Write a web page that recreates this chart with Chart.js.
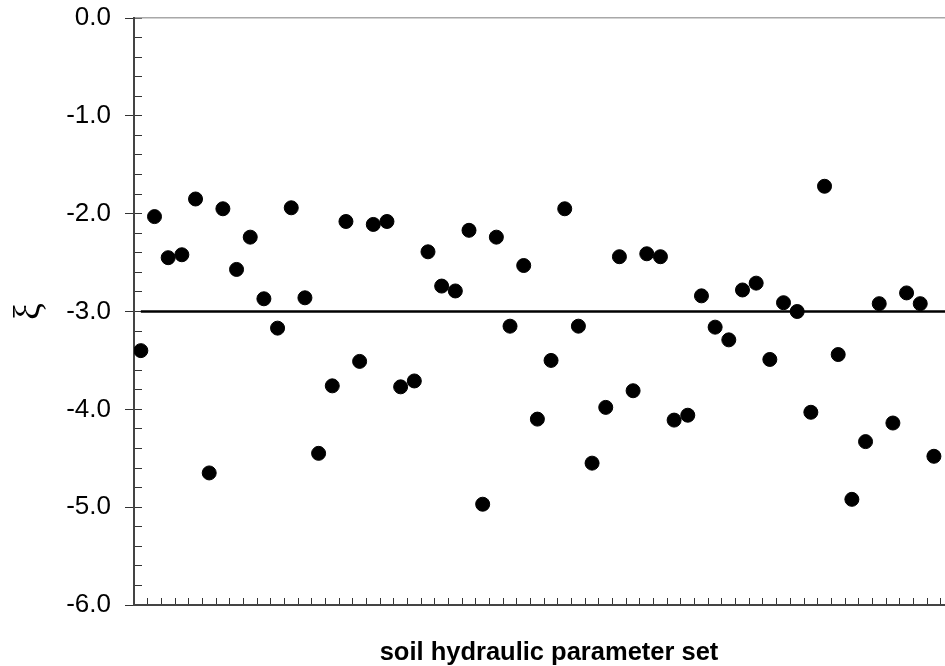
<!DOCTYPE html>
<html>
<head>
<meta charset="utf-8">
<title>soil hydraulic parameter set</title>
<script src="https://cdn.jsdelivr.net/npm/chart.js@4.4.1/dist/chart.umd.min.js"></script>
<style>
  html, body { margin: 0; padding: 0; background: #fff; overflow: hidden; }
  #wrap { width: 975px; height: 666px; }
</style>
</head>
<body>
<div id="wrap"><canvas id="chart" width="975" height="666"></canvas></div>
<script>
// one value per soil hydraulic parameter set (sets 1..59, left to right)
const xiValues = [
  -3.40, -2.03, -2.45, -2.42, -1.85, -4.65, -1.95, -2.57, -2.24, -2.87,
  -3.17, -1.94, -2.86, -4.45, -3.76, -2.08, -3.51, -2.11, -2.08, -3.77,
  -3.71, -2.39, -2.74, -2.79, -2.17, -4.97, -2.24, -3.15, -2.53, -4.10,
  -3.50, -1.95, -3.15, -4.55, -3.98, -2.44, -3.81, -2.41, -2.44, -4.11,
  -4.06, -2.84, -3.16, -3.29, -2.78, -2.71, -3.49, -2.91, -3.00, -4.03,
  -1.72, -3.44, -4.92, -4.33, -2.92, -4.14, -2.81, -2.92, -4.48
];
const referenceLevel = -3.0;
const yTickLabels = ['0.0', '-1.0', '-2.0', '-3.0', '-4.0', '-5.0', '-6.0'];
const xAxisTitle = 'soil hydraulic parameter set';
const yAxisTitle = 'ξ';

Chart.defaults.font.family = "'Liberation Sans', Arial, sans-serif";
Chart.defaults.color = '#000';

// each set sits in the middle of its slot
const points = xiValues.map((v, i) => ({ x: i + 0.5, y: v }));

const ctx = document.getElementById('chart').getContext('2d');
new Chart(ctx, {
  data: {
    datasets: [
      {
        type: 'line',
        data: [{ x: 0.5, y: referenceLevel }, { x: 60.7, y: referenceLevel }],
        borderColor: '#000',
        borderWidth: 2.5,
        pointRadius: 0,
        order: 2
      },
      {
        type: 'scatter',
        data: points,
        backgroundColor: '#000',
        borderColor: '#000',
        pointRadius: 7,
        pointHoverRadius: 7,
        order: 1
      }
    ]
  },
  options: {
    responsive: false,
    animation: false,
    devicePixelRatio: 1,
    layout: { padding: { top: 18, right: 11, left: 0, bottom: 0 } },
    plugins: { legend: { display: false }, tooltip: { enabled: false } },
    scales: {
      x: {
        type: 'linear',
        position: 'bottom',
        min: 0,
        max: 60.7,
        ticks: { display: false, stepSize: 1, includeBounds: false },
        grid: { drawOnChartArea: false, drawTicks: true, tickLength: -7, tickColor: '#333', tickWidth: 1 },
        border: { display: true, color: '#444', width: 2 },
        title: {
          display: true,
          text: xAxisTitle,
          font: { size: 25.5, weight: 'bold' },
          padding: { top: 0, bottom: -2 }
        },
        afterFit: s => { s.height = 61; }
      },
      xTop: {
        type: 'linear',
        position: 'top',
        min: 0,
        max: 60.7,
        ticks: { display: false },
        grid: { display: false },
        border: { display: true, color: '#a8a8a8', width: 1.5 },
        afterFit: s => { s.height = 0; }
      },
      y: {
        type: 'linear',
        position: 'left',
        min: -6,
        max: 0,
        ticks: {
          stepSize: 0.2,
          autoSkip: false,
          padding: 31,
          font: { size: 26 },
          callback: v => {
            const k = Math.round(-v);
            return Math.abs(v + k) < 1e-6 ? yTickLabels[k] : '';
          }
        },
        grid: { drawOnChartArea: false, drawTicks: true, tickLength: -8, tickColor: '#333', tickWidth: 1 },
        border: { display: true, color: '#444', width: 2 },
        title: {
          display: true,
          text: yAxisTitle,
          font: { family: "'Liberation Serif', 'DejaVu Serif', serif", size: 38 },
          padding: { top: 7, bottom: 0 }
        },
        // fixed axis width; label padding must not push the plot down
        afterFit: s => { s.width = 134; s.paddingTop = 0; s.paddingBottom = 0; }
      },
      // major ticks poke out to the left of the axis line
      yMajor: {
        type: 'linear',
        position: 'left',
        weight: -1,
        min: -6,
        max: 0,
        ticks: { display: false, stepSize: 1 },
        grid: { drawOnChartArea: false, drawTicks: true, tickLength: 9, tickColor: '#333', tickWidth: 1 },
        border: { display: false },
        afterFit: s => { s.width = 0; }
      }
    }
  }
});
</script>
</body>
</html>
